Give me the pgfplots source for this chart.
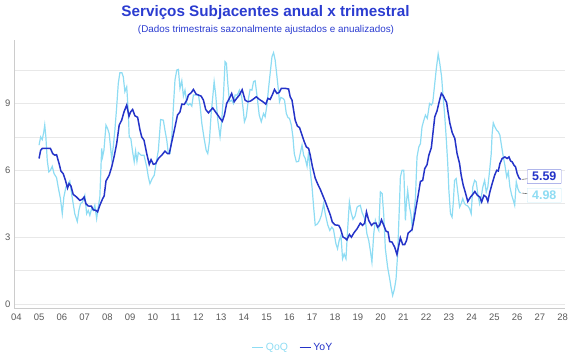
\documentclass[border=0pt]{standalone}
\usepackage{pgfplots}
\pgfplotsset{compat=1.18}
\usepackage{fontspec}
\setmainfont{Liberation Sans}
\definecolor{yoy}{HTML}{2433C8}
\definecolor{qoq}{HTML}{8EDCF3}
\definecolor{ttl}{HTML}{2B3CD0}
\begin{document}
\begin{tikzpicture}
\useasboundingbox (0bp,0bp) rectangle (570bp,360bp);
\node[font=\fontsize{15.3}{18}\selectfont\bfseries, text=ttl] at (265.5bp,347.5bp) {Serviços Subjacentes anual x trimestral};
\node[font=\fontsize{9.9}{12}\selectfont, text=ttl] at (266bp,330.5bp) {(Dados trimestrais sazonalmente ajustados e anualizados)};
\begin{axis}[
  at={(14bp,52bp)}, anchor=south west,
  width=551bp, height=268bp, scale only axis,
  clip=false,
  xmin=2003.9, xmax=2028.1, ymin=-0.18, ymax=11.85,
  axis x line*=bottom, axis y line*=left,
  axis line style={draw=black!20, line width=0.8bp, -},
  xtick={2004,...,2028},
  xticklabels={04,05,06,07,08,09,10,11,12,13,14,15,16,17,18,19,20,21,22,23,24,25,26,27,28},
  ytick={0,3,6,9},
  minor ytick={1.5,4.5,7.5,10.5},
  ymajorgrids, yminorgrids,
  major grid style={draw=black!9, line width=0.7bp},
  minor grid style={draw=black!9, line width=0.7bp},
  major tick length=0pt, minor tick length=0pt,
  tick label style={font=\fontsize{9.5}{11}\selectfont, text=black!65},
  xticklabel style={yshift=-2bp},
  /pgf/number format/assume math mode=true,
  legend style={at={(0.506,-0.148)}, anchor=center, draw=none, fill=none,
    legend columns=2, font=\fontsize{10.5}{12}\selectfont,
    /tikz/every even column/.append style={column sep=9bp}},
  legend image code/.code={\draw[#1, line width=1.5bp] (0bp,0bp) -- (11bp,0bp);},
]
\addplot[qoq, line width=1.2bp] coordinates {
(2005.00,7.13)(2005.07,7.50)(2005.14,7.38)(2005.21,7.73)(2005.25,8.03)(2005.30,7.50)(2005.36,6.45)(2005.43,5.93)(2005.50,6.00)(2005.58,6.18)(2005.66,5.85)(2005.77,5.67)(2005.84,5.25)(2005.94,4.73)
(2006.02,4.05)(2006.09,4.80)(2006.18,5.25)(2006.28,5.40)(2006.35,5.52)(2006.43,4.95)(2006.50,4.50)(2006.57,4.05)(2006.68,3.70)(2006.75,4.20)(2006.82,4.50)(2006.91,4.58)
(2007.01,4.88)(2007.09,4.05)(2007.16,4.20)(2007.23,3.98)(2007.31,4.28)(2007.38,4.20)(2007.45,4.43)(2007.53,3.83)(2007.60,4.35)(2007.67,4.80)(2007.75,6.98)(2007.79,6.60)(2007.85,6.90)(2007.94,8.03)
(2008.01,7.88)(2008.08,7.65)(2008.19,6.53)(2008.26,7.05)(2008.33,7.80)(2008.41,8.85)(2008.48,9.90)(2008.55,10.38)(2008.64,10.38)(2008.70,10.20)(2008.77,9.53)(2008.85,9.75)(2008.92,8.63)(2008.96,7.50)
(2009.03,7.43)(2009.11,6.83)(2009.18,6.38)(2009.24,6.87)(2009.30,6.40)(2009.36,6.80)(2009.48,6.68)(2009.61,6.68)(2009.73,6.15)(2009.80,5.70)(2009.87,5.40)(2009.97,5.63)
(2010.06,5.78)(2010.14,6.30)(2010.24,6.90)(2010.34,8.28)(2010.46,8.25)(2010.53,7.80)(2010.61,7.35)(2010.68,6.75)(2010.75,6.75)(2010.83,7.50)(2010.90,8.85)(2010.97,10.05)
(2011.05,10.50)(2011.12,10.53)(2011.19,9.68)(2011.27,10.02)(2011.34,9.33)(2011.41,9.60)(2011.49,9.00)(2011.56,8.93)(2011.63,9.00)(2011.71,8.88)(2011.78,9.38)(2011.85,9.38)
(2012.00,9.38)(2012.07,8.93)(2012.15,8.10)(2012.25,7.43)(2012.34,6.90)(2012.41,6.75)(2012.48,7.28)(2012.56,8.55)(2012.63,9.30)(2012.69,9.98)(2012.76,9.38)(2012.85,8.25)(2012.95,7.50)
(2013.02,8.18)(2013.10,9.38)(2013.17,10.88)(2013.23,10.80)(2013.29,9.90)(2013.36,9.08)(2013.46,9.15)(2013.54,9.00)(2013.61,9.38)(2013.71,9.38)(2013.80,9.60)(2013.90,9.30)(2013.97,8.70)
(2014.02,8.18)(2014.10,8.40)(2014.20,9.23)(2014.27,9.63)(2014.35,9.60)(2014.42,9.98)(2014.49,10.02)(2014.57,9.38)(2014.67,8.48)(2014.76,8.18)(2014.86,8.55)(2014.93,8.40)
(2015.01,8.93)(2015.08,9.68)(2015.15,10.35)(2015.23,11.10)(2015.30,11.28)(2015.37,10.95)(2015.45,10.20)(2015.52,9.53)(2015.56,9.08)(2015.62,9.27)(2015.71,9.23)(2015.78,9.15)(2015.86,8.55)(2015.93,8.37)
(2016.00,8.33)(2016.08,8.03)(2016.15,7.50)(2016.21,6.75)(2016.30,6.38)(2016.40,6.40)(2016.47,6.75)(2016.55,7.13)(2016.62,6.68)(2016.69,6.53)(2016.77,6.18)(2016.84,6.83)(2016.91,6.00)(2016.99,5.25)
(2017.06,4.35)(2017.13,3.53)(2017.23,3.60)(2017.32,3.75)(2017.40,3.98)(2017.50,4.50)(2017.57,4.05)(2017.68,3.55)(2017.77,3.30)(2017.86,3.45)(2017.93,3.35)
(2018.04,2.70)(2018.11,2.48)(2018.18,2.85)(2018.26,3.08)(2018.33,2.03)(2018.40,2.25)(2018.48,2.03)(2018.55,3.30)(2018.63,4.58)(2018.70,4.13)(2018.79,3.80)(2018.88,3.95)(2018.97,4.35)
(2019.04,4.40)(2019.11,4.43)(2019.19,4.10)(2019.26,3.93)(2019.33,3.75)(2019.40,3.15)(2019.48,2.85)(2019.55,2.40)(2019.62,1.88)(2019.70,3.15)(2019.77,3.75)(2019.85,3.45)(2019.92,3.30)(2019.99,5.03)
(2020.07,4.95)(2020.14,3.98)(2020.21,2.48)(2020.31,1.65)(2020.40,1.13)(2020.46,0.75)(2020.53,0.38)(2020.61,0.68)(2020.68,1.13)(2020.75,2.25)(2020.83,4.50)(2020.87,5.70)(2020.94,6.00)
(2021.02,6.00)(2021.09,3.75)(2021.13,4.50)(2021.19,5.10)(2021.27,4.35)(2021.33,4.05)(2021.39,3.45)(2021.46,4.05)(2021.53,4.73)(2021.60,6.60)(2021.68,7.05)(2021.75,7.20)(2021.82,7.95)(2021.90,8.25)(2021.97,8.48)
(2022.05,8.33)(2022.09,8.58)(2022.15,9.00)(2022.23,8.93)(2022.29,9.03)(2022.38,9.90)(2022.45,10.58)(2022.53,11.22)(2022.60,10.80)(2022.68,10.20)(2022.74,9.38)(2022.81,8.55)(2022.88,7.50)(2022.95,6.30)
(2023.00,5.10)(2023.07,4.05)(2023.14,3.90)(2023.19,4.50)(2023.25,5.55)(2023.32,5.63)(2023.40,4.95)(2023.47,4.35)(2023.54,4.50)(2023.61,4.73)(2023.69,4.50)(2023.76,4.43)(2023.83,4.40)(2023.91,4.28)(2023.98,4.05)
(2024.05,5.25)(2024.13,5.55)(2024.20,5.48)(2024.27,4.95)(2024.35,4.50)(2024.42,4.80)(2024.49,5.25)(2024.57,5.55)(2024.64,5.03)(2024.71,5.25)(2024.79,6.00)(2024.86,6.75)(2024.90,7.65)(2024.95,8.13)
(2025.02,7.95)(2025.10,7.80)(2025.17,7.73)(2025.24,7.58)(2025.32,7.05)(2025.39,6.60)(2025.46,6.23)(2025.54,5.70)(2025.61,5.93)(2025.68,5.25)(2025.76,4.88)(2025.83,4.65)(2025.89,4.43)(2025.96,5.48)
(2026.03,5.18)(2026.09,5.03)(2026.15,4.98)
};
\addlegendentry{\textcolor{qoq}{QoQ}}
\addplot[yoy, line width=1.5bp] coordinates {
(2005.00,6.53)(2005.07,6.90)(2005.14,6.98)(2005.30,6.98)(2005.50,6.98)(2005.60,6.75)(2005.69,6.68)(2005.77,6.70)(2005.88,6.30)(2005.96,5.97)
(2006.06,5.85)(2006.16,5.55)(2006.25,5.20)(2006.32,5.40)(2006.40,5.30)(2006.50,4.92)(2006.65,4.80)(2006.79,4.65)(2006.90,4.70)(2006.98,4.80)
(2007.06,4.50)(2007.16,4.40)(2007.30,4.39)(2007.38,4.23)(2007.50,4.20)(2007.57,4.13)(2007.67,4.43)(2007.79,4.72)(2007.86,4.85)(2007.94,5.52)
(2008.08,5.78)(2008.19,6.15)(2008.30,6.63)(2008.41,7.20)(2008.52,8.03)(2008.63,8.25)(2008.73,8.62)(2008.85,8.93)(2008.95,8.43)
(2009.02,8.62)(2009.11,8.73)(2009.21,8.45)(2009.33,8.38)(2009.43,7.83)(2009.51,7.50)(2009.61,7.35)(2009.73,6.75)(2009.84,6.27)(2009.92,6.48)
(2010.02,6.27)(2010.12,6.30)(2010.24,6.53)(2010.39,6.68)(2010.53,6.86)(2010.64,6.75)(2010.72,6.75)(2010.83,7.28)(2010.94,7.80)
(2011.08,8.48)(2011.19,8.62)(2011.27,8.97)(2011.38,8.96)(2011.49,9.15)(2011.56,9.38)(2011.68,9.48)(2011.78,9.63)(2011.90,9.42)
(2012.00,9.38)(2012.12,9.33)(2012.22,9.15)(2012.32,8.73)(2012.44,8.58)(2012.54,8.70)(2012.63,8.80)(2012.73,8.65)(2012.85,8.48)(2012.95,8.33)
(2013.05,8.20)(2013.14,8.48)(2013.24,9.00)(2013.36,9.23)(2013.46,9.45)(2013.57,9.08)(2013.68,9.23)(2013.80,9.38)(2013.92,9.62)
(2014.05,9.15)(2014.16,9.08)(2014.27,9.10)(2014.39,9.18)(2014.54,9.30)(2014.68,9.18)(2014.83,9.08)(2014.96,8.97)
(2015.05,9.23)(2015.15,9.18)(2015.25,9.40)(2015.34,9.63)(2015.45,9.45)(2015.55,9.50)(2015.64,9.68)(2015.81,9.68)(2015.96,9.65)
(2016.03,9.30)(2016.11,9.15)(2016.18,8.70)(2016.25,8.25)(2016.35,7.98)(2016.44,7.92)(2016.55,7.58)(2016.65,7.28)(2016.74,7.05)(2016.84,6.98)(2016.91,6.68)
(2017.01,6.15)(2017.13,5.65)(2017.24,5.38)(2017.35,5.15)(2017.47,4.85)(2017.57,4.60)(2017.68,4.30)(2017.79,4.00)(2017.88,3.68)
(2018.00,3.55)(2018.16,3.53)(2018.24,3.38)(2018.35,3.00)(2018.45,2.95)(2018.52,2.88)(2018.63,3.12)(2018.72,3.00)(2018.82,3.18)(2018.97,3.38)
(2019.11,3.63)(2019.21,3.53)(2019.30,3.63)(2019.38,4.13)(2019.48,3.75)(2019.60,3.53)(2019.70,3.63)(2019.80,3.63)(2019.87,3.45)(2019.96,3.53)
(2020.04,3.78)(2020.14,3.53)(2020.24,3.27)(2020.33,3.23)(2020.40,2.80)(2020.50,2.78)(2020.62,2.55)(2020.72,2.22)(2020.80,2.63)(2020.87,2.97)(2020.97,2.67)
(2021.06,2.67)(2021.14,2.85)(2021.21,3.18)(2021.31,3.27)(2021.38,3.33)(2021.46,3.75)(2021.56,4.35)(2021.65,4.88)(2021.75,5.50)(2021.85,5.55)(2021.94,6.08)
(2022.04,6.25)(2022.12,6.68)(2022.23,7.02)(2022.29,7.58)(2022.38,8.40)(2022.48,8.67)(2022.59,9.15)(2022.67,9.45)(2022.75,9.35)(2022.82,9.20)(2022.90,9.05)(2022.96,8.63)
(2023.04,8.13)(2023.15,7.68)(2023.26,7.43)(2023.36,6.75)(2023.47,6.30)(2023.54,5.78)(2023.63,5.33)(2023.73,4.98)(2023.83,4.60)(2023.95,4.80)
(2024.05,4.92)(2024.14,5.05)(2024.25,4.88)(2024.36,4.80)(2024.44,4.58)(2024.54,4.88)(2024.64,4.80)(2024.71,4.60)(2024.80,5.03)(2024.90,5.40)
(2025.01,5.78)(2025.10,6.00)(2025.17,5.97)(2025.24,6.30)(2025.34,6.53)(2025.46,6.60)(2025.56,6.53)(2025.64,6.60)(2025.71,6.42)(2025.78,6.38)(2025.86,6.23)(2025.93,6.15)
(2026.00,5.85)(2026.08,5.66)(2026.15,5.59)
};
\addlegendentry{\textcolor{yoy}{YoY}}
\draw[black!55, line width=0.6bp] (axis cs:2026.2,5.59) -- (axis cs:2027.04,5.70);
\draw[black!55, line width=0.6bp] (axis cs:2026.2,4.98) -- (axis cs:2027.04,4.88);
\node[draw=yoy!55, fill=white, text=yoy, font=\bfseries\fontsize{12.5}{14}\selectfont, inner sep=1bp, minimum width=34bp, minimum height=14bp, rounded corners=0.5bp] at (axis cs:2027.19,5.72) {5.59};
\node[draw=qoq!50, fill=white, text=qoq, font=\bfseries\fontsize{12.5}{14}\selectfont, inner sep=1bp, minimum width=34bp, minimum height=14bp, rounded corners=0.5bp] at (axis cs:2027.19,4.88) {4.98};
\end{axis}
\end{tikzpicture}
\end{document}
